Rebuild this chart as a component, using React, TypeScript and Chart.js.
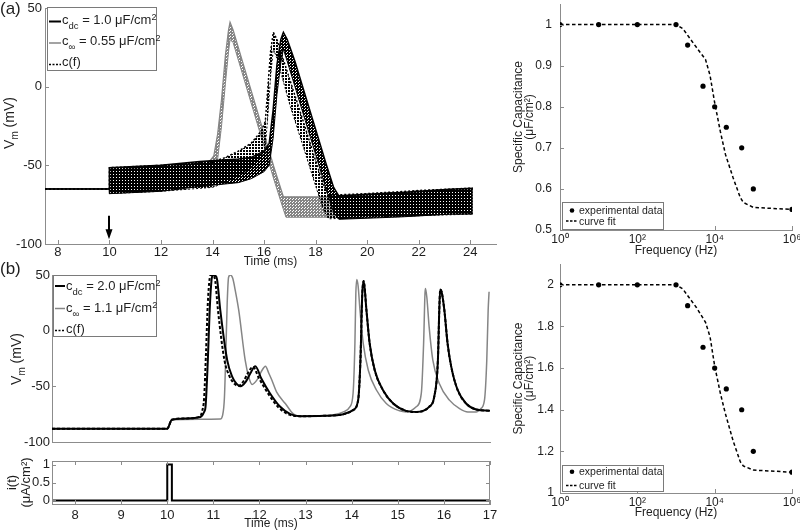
import React, { useEffect, useRef } from "react";
import { Chart, registerables } from "chart.js";

Chart.register(...registerables);

const FONT = "'Liberation Sans', Arial, Helvetica, sans-serif";
const TEXT = "#1e1e1e";
const AXIS = "#8c8c8c";
const GRAY = "#858585";
Chart.defaults.font.family = FONT;

// ---------------- Panel (a): Vm under high-frequency stimulation ----------------
const aTimeTicks = [8, 10, 12, 14, 16, 18, 20, 22, 24];
const aTimeLabels = ["8", "10", "12", "14", "16", "18", "20", "22", "24"];
const aVmTicks = [-100, -50, 0, 50];
const aVmLabels = ["-100", "-50", "0", "50"];
const aArrowTime = 10;
const aArrowFrom = -82;
const aArrowTo = -97;

// envelopes (upper / lower edge of the oscillating trace)
const aCdcTime = [7.5, 10, 10, 12, 13.5, 15, 15.5, 16, 16.2, 16.35, 16.5, 16.65, 16.75, 16.9, 17.2, 17.6, 18.0, 18.4, 18.7, 18.9, 21.3, 23.2, 24.1];
const aCdcUpper = [-65, -65, -51.5, -50, -47.5, -46, -45, -41, -36, -15, 14, 30, 34.6, 30, 16, -5.6, -27, -48.7, -64, -69.4, -67.3, -65.2, -64.5];
const aCdcLower = [-65, -65, -68, -66.5, -63.5, -61, -58.5, -54, -50, -33, -5, 15, 24, 16, 0, -21.6, -43, -64.7, -80, -84.3, -82.8, -81, -81];

const aCinfTime = [7.5, 10, 10, 13.8, 14.05, 14.2, 14.35, 14.5, 14.62, 14.68, 14.8, 15.2, 15.6, 16.0, 16.4, 16.75, 16.85, 18.3, 20, 22, 24.1];
const aCinfUpper = [-65, -65, -53, -49, -44, -30, -8, 20, 36, 41, 36, 14, -8, -30, -52, -70, -70, -70, -69, -67, -65.5];
const aCinfLower = [-65, -65, -67, -63, -58, -46, -25, 2, 22, 30, 28, 6, -16, -38, -60, -78, -83, -83, -83, -82, -80.5];

const aCfTime = [7.5, 10, 10, 12, 14, 14.5, 15, 15.5, 15.9, 16.05, 16.15, 16.25, 16.36, 16.5, 17.0, 17.5, 18.0, 18.3, 18.5, 20, 22, 24.1];
const aCfUpper = [-65, -65, -51.5, -50, -48, -45, -41, -36, -28, -22, 0, 22, 34.6, 30, 4.4, -21, -47, -62, -69, -68, -66, -64.5];
const aCfLower = [-65, -65, -68, -66.5, -64, -61, -57, -52, -44, -38, -18, 6, 24, 18, -11.6, -37, -63, -78, -84, -83, -82, -81];

// ---------------- Panel (b): Vm with a brief current pulse ----------------
const bTimeTicks = [8, 9, 10, 11, 12, 13, 14, 15, 16, 17];
const bTimeLabels = ["8", "9", "10", "11", "12", "13", "14", "15", "16", "17"];
const bVmTicks = [-100, -50, 0, 50];
const bVmLabels = ["-100", "-50", "0", "50"];

const bCdcTime = [7.5, 10, 10.1, 10.4, 10.72, 10.8, 10.83, 10.88, 10.92, 10.96, 10.99, 11.04, 11.08, 11.15, 11.3, 11.41, 11.5, 11.59, 11.7, 11.8, 11.91, 12.04, 12.23, 12.45, 12.67, 12.88, 13.4, 13.82, 14.03, 14.14, 14.19, 14.23, 14.26, 14.32, 14.39, 14.5, 14.68, 14.9, 15.18, 15.4, 15.68, 15.79, 15.87, 15.9, 15.92, 15.95, 16.01, 16.08, 16.16, 16.3, 16.48, 16.7, 17];
const bCdcVm = [-88, -88, -80, -78.8, -77.6, -73, -68.4, -26.5, 18.4, 45.4, 50, 49.5, 46, 18.4, -26.5, -41.5, -47.5, -49.9, -46, -38.5, -31.9, -43, -56.4, -68.4, -75, -76.8, -76.5, -75, -71.4, -62.4, -26.5, 33.4, 44.7, 18.4, -11.5, -35.5, -53.5, -65.4, -72, -73, -68.4, -59.5, -26.5, 18.4, 37, 35, 18.4, -11.5, -32.5, -53.5, -65.4, -70.8, -72];

const bCinfTime = [7.5, 10, 10.1, 10.7, 11.15, 11.2, 11.24, 11.27, 11.3, 11.33, 11.37, 11.42, 11.48, 11.55, 11.69, 11.77, 11.84, 11.95, 12.05, 12.13, 12.2, 12.27, 12.37, 12.56, 12.74, 12.88, 13.4, 13.82, 13.96, 14.03, 14.07, 14.09, 14.11, 14.14, 14.18, 14.25, 14.36, 14.54, 14.75, 15.04, 15.18, 15.4, 15.51, 15.56, 15.59, 15.6, 15.63, 15.68, 15.76, 15.9, 16.12, 16.34, 16.52, 16.7, 16.8, 16.88, 16.93, 16.96, 16.98];
const bCinfVm = [-88, -88, -80, -79.5, -79.3, -76, -60, -20, 25, 48, 50, 47, 35, 18.4, -26.5, -42, -48.3, -44, -36, -31.9, -38, -44.5, -55, -65.4, -75, -76.8, -76.5, -73, -68.4, -56.4, -11.5, 33.4, 46, 40, 18.4, -11.5, -35.5, -53.5, -65.4, -72, -73, -68.4, -56.4, -11.5, 33.4, 37.9, 30, 3.4, -26.5, -47.4, -62.4, -70, -73, -73, -70, -62.4, -26.5, 18.4, 34.9];

const bCfTime = [7.5, 10, 10.1, 10.4, 10.7, 10.76, 10.8, 10.84, 10.88, 10.92, 10.95, 11.0, 11.04, 11.1, 11.24, 11.35, 11.45, 11.55, 11.66, 11.75, 11.86, 11.98, 12.18, 12.4, 12.62, 12.85, 13.4, 13.82, 14.03, 14.14, 14.19, 14.23, 14.26, 14.32, 14.39, 14.5, 14.68, 14.9, 15.18, 15.4, 15.68, 15.79, 15.87, 15.9, 15.92, 15.95, 16.01, 16.08, 16.16, 16.3, 16.48, 16.7, 17];
const bCfVm = [-88, -88, -80, -78.8, -77.3, -72, -60, -20, 25, 47, 50, 49.5, 45, 18.4, -26.5, -41, -47.5, -49.5, -45, -38, -32.5, -42, -56, -68.4, -75, -76.8, -76.5, -75, -71.4, -62.4, -26.5, 33.4, 44.7, 18.4, -11.5, -35.5, -53.5, -65.4, -72, -73, -68.4, -59.5, -26.5, 18.4, 37, 35, 18.4, -11.5, -32.5, -53.5, -65.4, -70.8, -72];

const iTime = [7.5, 10, 10, 10.1, 10.1, 17];
const iValue = [0, 0, 1, 1, 0, 0];
const iTicks = [0, 0.5, 1];
const iLabels = ["0", "0.5", "1"];

// ---------------- Capacitance vs frequency ----------------
const freqTicks = [1, 100, 10000, 1000000];
const freqLabels = ["10\u2070", "10\u00b2", "10\u2074", "10\u2076"];
const freqExp = [1, 10, 100, 1000, 2000, 5000, 10000, 20000, 50000, 100000, 1000000];
const capExpA = [1, 1, 1, 1, 0.95, 0.85, 0.8, 0.75, 0.7, 0.6, 0.55];
const capExpB = [2, 2, 2, 2, 1.9, 1.7, 1.6, 1.5, 1.4, 1.2, 1.1];
const freqFit = [1, 10, 100, 1000, 1500, 3400, 5800, 7600, 10000, 14000, 19000, 30000, 46000, 55000, 100000, 1000000];
const capFitA = [1, 1, 1, 1, 0.99, 0.944, 0.915, 0.876, 0.81, 0.74, 0.684, 0.627, 0.579, 0.567, 0.555, 0.55];
const capFitB = [2, 2, 2, 2, 1.98, 1.89, 1.82, 1.75, 1.61, 1.48, 1.38, 1.25, 1.15, 1.13, 1.11, 1.1];
const capTicksA = [0.5, 0.6, 0.7, 0.8, 0.9, 1];
const capLabelsA = ["0.5", "0.6", "0.7", "0.8", "0.9", "1"];
const capTicksB = [1, 1.2, 1.4, 1.6, 1.8, 2];
const capLabelsB = ["1", "1.2", "1.4", "1.6", "1.8", "2"];

// ---------------- helpers ----------------
const pts = (xs: number[], ys: number[]) => xs.map((x, i) => ({ x, y: ys[i] }));

function axis(o: any) {
  return {
    type: o.type || "linear",
    min: o.min,
    max: o.max,
    afterBuildTicks: (s: any) => {
      s.ticks = o.ticks.map((v: number) => ({ value: v }));
    },
    afterFit: (s: any) => {
      if (s.isHorizontal()) s.height = o.size;
      else s.width = o.size;
      s.paddingTop = 0;
      s.paddingBottom = 0;
      s.paddingLeft = 0;
      s.paddingRight = 0;
    },
    grid: { display: false, drawTicks: false },
    border: { display: true, color: AXIS, width: 1 },
    ticks: {
      display: o.showLabels !== false,
      autoSkip: false,
      maxRotation: 0,
      minRotation: 0,
      padding: o.pad,
      color: TEXT,
      font: { family: FONT, size: o.fontSize || 13 },
      callback: (_v: any, i: number) => o.labels[i],
    },
    title: o.title
      ? {
          display: true,
          text: o.title,
          color: TEXT,
          padding: 0,
          font: { family: FONT, size: o.titleSize || 12, lineHeight: o.titleLH || 1.2 },
        }
      : { display: false },
  };
}

const decor = {
  id: "decor",
  afterDraw(chart: any, _a: any, o: any) {
    const { ctx, chartArea: ca } = chart;
    const xs = chart.scales.x;
    const ys = chart.scales.y;
    const len = 4;
    ctx.save();
    ctx.strokeStyle = AXIS;
    ctx.lineWidth = 1;
    ctx.setLineDash([]);
    ctx.beginPath();
    if (o.xTicks)
      xs.ticks.forEach((t: any) => {
        const p = Math.round(xs.getPixelForValue(t.value)) + 0.5;
        ctx.moveTo(p, ca.bottom);
        ctx.lineTo(p, ca.bottom - len);
        if (o.mirror) {
          ctx.moveTo(p, ca.top);
          ctx.lineTo(p, ca.top + len);
        }
      });
    if (o.yTicks)
      ys.ticks.forEach((t: any) => {
        const p = Math.round(ys.getPixelForValue(t.value)) + 0.5;
        ctx.moveTo(ca.left, p);
        ctx.lineTo(ca.left + len, p);
        if (o.mirror) {
          ctx.moveTo(ca.right, p);
          ctx.lineTo(ca.right - len, p);
        }
      });
    ctx.stroke();
    if (o.box) {
      ctx.strokeRect(Math.round(ca.left) + 0.5, Math.round(ca.top) + 0.5, Math.round(ca.right - ca.left) - 1, Math.round(ca.bottom - ca.top));
    }
    if (o.arrow) {
      const px = Math.round(xs.getPixelForValue(o.arrow.x));
      const y1 = ys.getPixelForValue(o.arrow.from);
      const y2 = ys.getPixelForValue(o.arrow.to);
      ctx.strokeStyle = "#000";
      ctx.fillStyle = "#000";
      ctx.lineWidth = 2;
      ctx.beginPath();
      ctx.moveTo(px, y1);
      ctx.lineTo(px, y2 - 8);
      ctx.stroke();
      ctx.beginPath();
      ctx.moveTo(px - 3.5, y2 - 10);
      ctx.lineTo(px + 3.5, y2 - 10);
      ctx.lineTo(px, y2);
      ctx.closePath();
      ctx.fill();
    }
    ctx.restore();
  },
};

// small repeat tile: cells are [x, y] pixels to paint
function pattern(color: string, w: number, h: number, cells: number[][]) {
  const c = document.createElement("canvas");
  c.width = w;
  c.height = h;
  const g = c.getContext("2d")!;
  g.fillStyle = color;
  cells.forEach(([x, y]) => g.fillRect(x, y, 1, 1));
  return g.createPattern(c, "repeat");
}

function band(time: number[], up: number[], lo: number[], color: string, fillStyle: any, dash: number[], order: number, w: number) {
  return [
    { data: pts(time, up), borderColor: color, borderWidth: w, borderDash: dash, pointRadius: 0, fill: false, order },
    { data: pts(time, lo), borderColor: color, borderWidth: 1, borderDash: dash, pointRadius: 0, fill: "-1", backgroundColor: fillStyle, order },
  ];
}

const baseOpts = {
  responsive: false,
  animation: false,
  devicePixelRatio: 1,
  events: [],
};

function configA() {
  const dense = [[0, 0], [1, 0], [0, 1], [1, 2], [2, 1], [2, 2], [0, 2]];
  const dots = [[0, 0], [1, 0], [0, 1], [1, 1]];
  return {
    type: "line",
    data: {
      datasets: [
        ...band(aCfTime, aCfUpper, aCfLower, "#000", pattern("#000", 3, 3, dots), [2, 2], 0, 1.5),
        ...band(aCdcTime, aCdcUpper, aCdcLower, "#000", pattern("#000", 3, 3, dense), [], 1, 1.5),
        ...band(aCinfTime, aCinfUpper, aCinfLower, GRAY, pattern(GRAY, 3, 3, dense), [], 2, 1.2),
      ],
    },
    options: {
      ...baseOpts,
      layout: { padding: { left: 0, top: 8, right: 14, bottom: 0 } },
      plugins: {
        legend: { display: false },
        tooltip: { enabled: false },
        decor: { xTicks: true, yTicks: true, arrow: { x: aArrowTime, from: aArrowFrom, to: aArrowTo } },
      },
      scales: {
        x: axis({ min: 7.5, max: 25, ticks: aTimeTicks, labels: aTimeLabels, size: 25, pad: 1, title: "Time (ms)" }),
        y: axis({ min: -100, max: 50, ticks: aVmTicks, labels: aVmLabels, size: 45, pad: 3 }),
      },
    },
    plugins: [decor],
  };
}

function configB() {
  const line = (t: number[], v: number[], color: string, w: number, dash: number[], order: number) => ({
    data: pts(t, v),
    borderColor: color,
    borderWidth: w,
    borderDash: dash,
    pointRadius: 0,
    fill: false,
    cubicInterpolationMode: "monotone",
    order,
  });
  return {
    type: "line",
    data: {
      datasets: [
        line(bCfTime, bCfVm, "#000", 2, [3, 2], 0),
        line(bCdcTime, bCdcVm, "#000", 2, [], 1),
        line(bCinfTime, bCinfVm, GRAY, 1.5, [], 2),
      ],
    },
    options: {
      ...baseOpts,
      layout: { padding: { left: 0, top: 13, right: 15, bottom: 12 } },
      plugins: { legend: { display: false }, tooltip: { enabled: false }, decor: { xTicks: false, yTicks: true } },
      scales: {
        x: axis({ min: 7.5, max: 17, ticks: bTimeTicks, labels: bTimeLabels, size: 3, pad: 0, showLabels: false }),
        y: axis({ min: -100, max: 50, ticks: bVmTicks, labels: bVmLabels, size: 52, pad: 2 }),
      },
    },
    plugins: [decor],
  };
}

function configC() {
  return {
    type: "line",
    data: {
      datasets: [{ data: pts(iTime, iValue), borderColor: "#000", borderWidth: 2, pointRadius: 0, fill: false }],
    },
    options: {
      ...baseOpts,
      layout: { padding: { left: 5, top: 11, right: 15, bottom: 0 } },
      plugins: { legend: { display: false }, tooltip: { enabled: false }, decor: { xTicks: true, yTicks: true, mirror: true, box: true } },
      scales: {
        x: axis({ min: 7.5, max: 17, ticks: bTimeTicks, labels: bTimeLabels, size: 27, pad: 4, title: "Time (ms)" }),
        y: axis({ min: -0.1, max: 1.1, ticks: iTicks, labels: iLabels, size: 47, pad: 2, title: ["i(t)", "(\u03bcA/cm\u00b2)"], titleSize: 13, titleLH: 1.08 }),
      },
    },
    plugins: [decor],
  };
}

function configCap(capExp: number[], capFit: number[], ymin: number, ymax: number, yt: number[], yl: string[], ypad: number, top: number, xh: number) {
  return {
    type: "scatter",
    data: {
      datasets: [
        { data: pts(freqExp, capExp), backgroundColor: "#000", borderColor: "#000", pointRadius: 2.6, pointBorderWidth: 0, showLine: false, order: 0 },
        { data: pts(freqFit, capFit), borderColor: "#000", borderWidth: 1.5, borderDash: [3.5, 2.5], pointRadius: 0, showLine: true, fill: false, order: 1 },
      ],
    },
    options: {
      ...baseOpts,
      layout: { padding: { left: 7.5, top, right: 8, bottom: 0 } },
      plugins: { legend: { display: false }, tooltip: { enabled: false }, decor: { xTicks: true, yTicks: true } },
      scales: {
        x: axis({ type: "logarithmic", min: 1, max: 1000000, ticks: freqTicks, labels: freqLabels, size: xh, pad: 2, fontSize: 12, title: "Frequency (Hz)" }),
        y: axis({ min: ymin, max: ymax, ticks: yt, labels: yl, size: 47.5, pad: ypad, fontSize: 12, title: ["Specific Capacitance", "(\u03bcF/cm\u00b2)"], titleLH: 0.95 }),
      },
    },
    plugins: [decor],
  };
}

function ChartCanvas(props: { left: number; top: number; width: number; height: number; make: () => any }) {
  const ref = useRef<HTMLCanvasElement>(null);
  useEffect(() => {
    const chart = new Chart(ref.current as HTMLCanvasElement, props.make());
    return () => chart.destroy();
  }, []);
  return (
    <canvas
      ref={ref}
      width={props.width}
      height={props.height}
      style={{ position: "absolute", left: props.left, top: props.top, width: props.width, height: props.height, display: "block" }}
    />
  );
}

const Sub = (p: { children: any; dy: number; size: number }) => (
  <span style={{ fontSize: p.size, position: "relative", top: p.dy, lineHeight: 0 }}>{p.children}</span>
);

function Txt(p: { left: number; baseline: number; size: number; children: any }) {
  const lh = Math.round(p.size * 1.15);
  const top = p.baseline - (lh - p.size * 1.117) / 2 - p.size * 0.905;
  return (
    <div style={{ position: "absolute", left: p.left, top, fontSize: p.size, lineHeight: lh + "px", whiteSpace: "nowrap", color: TEXT, fontFamily: FONT }}>
      {p.children}
    </div>
  );
}

function VLabel(p: { cx: number; cy: number; children: any; size: number }) {
  return (
    <div
      style={{
        position: "absolute",
        left: p.cx,
        top: p.cy,
        transform: "translate(-50%,-50%) rotate(-90deg)",
        fontSize: p.size,
        lineHeight: "16px",
        whiteSpace: "nowrap",
        color: TEXT,
        fontFamily: FONT,
      }}
    >
      {p.children}
    </div>
  );
}

const boxStyle = (left: number, top: number, width: number, height: number): any => ({
  position: "absolute",
  left,
  top,
  width,
  height,
  border: "1px solid #7a7a7a",
  boxSizing: "border-box",
  background: "#fff",
});

export default function App() {
  return (
    <div style={{ position: "absolute", left: 0, top: 0, width: 800, height: 531, background: "#fff", overflow: "hidden", fontFamily: FONT }}>
      <ChartCanvas left={0} top={0} width={510} height={269} make={configA} />
      <ChartCanvas left={0} top={262} width={505} height={195} make={configB} />
      <ChartCanvas left={0} top={450} width={505} height={81} make={configC} />
      <ChartCanvas left={505} top={0} width={295} height={258} make={() => configCap(capExpA, capFitA, 0.5, 1.05, capTicksA, capLabelsA, 8, 2, 28)} />
      <ChartCanvas left={505} top={260} width={295} height={260} make={() => configCap(capExpB, capFitB, 1, 2.1, capTicksB, capLabelsB, 6, 4, 27)} />

      {/* legend boxes */}
      <div style={boxStyle(47, 7, 110, 64)} />
      <div style={boxStyle(53, 275, 104, 62)} />
      <div style={boxStyle(562, 202, 102, 28)} />
      <div style={boxStyle(562, 465, 102, 27)} />

      <svg width={800} height={531} style={{ position: "absolute", left: 0, top: 0, pointerEvents: "none" }}>
        <line x1={49} y1={21.5} x2={61} y2={21.5} stroke="#000" strokeWidth={2} />
        <line x1={49} y1={43} x2={61} y2={43} stroke={GRAY} strokeWidth={1.5} />
        <line x1={49} y1={64.5} x2={61} y2={64.5} stroke="#000" strokeWidth={1.5} strokeDasharray="2 1.5" />
        <line x1={55} y1={286} x2={65} y2={286} stroke="#000" strokeWidth={2} />
        <line x1={55} y1={308.5} x2={65} y2={308.5} stroke={GRAY} strokeWidth={1.5} />
        <line x1={55} y1={330.5} x2={65} y2={330.5} stroke="#000" strokeWidth={1.5} strokeDasharray="2 1.5" />
        <circle cx={572} cy={210.5} r={2.3} fill="#000" />
        <line x1={566} y1={221} x2={578} y2={221} stroke="#000" strokeWidth={1.3} strokeDasharray="2.5 1.5" />
        <circle cx={572} cy={471.7} r={2.3} fill="#000" />
        <line x1={566} y1={485.5} x2={578} y2={485.5} stroke="#000" strokeWidth={1.3} strokeDasharray="2.5 1.5" />
      </svg>

      {/* legend (a) */}
      <Txt left={62} baseline={24} size={13}>
        c<Sub dy={5} size={9.5}>dc</Sub> = 1.0 {"\u03bc"}F/cm<Sub dy={-4} size={9}>2</Sub>
      </Txt>
      <Txt left={62} baseline={45.5} size={13}>
        c<Sub dy={5} size={9.5}>{"\u221e"}</Sub> = 0.55 {"\u03bc"}F/cm<Sub dy={-4} size={9}>2</Sub>
      </Txt>
      <Txt left={62} baseline={66} size={13}>
        c(f)
      </Txt>

      {/* legend (b) */}
      <Txt left={66} baseline={290} size={13}>
        c<Sub dy={5} size={9.5}>dc</Sub> = 2.0 {"\u03bc"}F/cm<Sub dy={-4} size={9}>2</Sub>
      </Txt>
      <Txt left={66} baseline={311.7} size={13}>
        c<Sub dy={5} size={9.5}>{"\u221e"}</Sub> = 1.1 {"\u03bc"}F/cm<Sub dy={-4} size={9}>2</Sub>
      </Txt>
      <Txt left={66} baseline={333} size={13}>
        c(f)
      </Txt>

      {/* legends right */}
      <Txt left={579} baseline={214} size={10.5}>experimental data</Txt>
      <Txt left={579} baseline={225} size={10.5}>curve fit</Txt>
      <Txt left={579} baseline={475} size={10.5}>experimental data</Txt>
      <Txt left={579} baseline={488.5} size={10.5}>curve fit</Txt>

      {/* panel labels */}
      <Txt left={0} baseline={15} size={17}>(a)</Txt>
      <Txt left={0} baseline={275} size={17}>(b)</Txt>

      {/* y titles with subscript */}
      <VLabel cx={9} cy={123} size={14}>
        V<Sub dy={4} size={10}>m</Sub> (mV)
      </VLabel>
      <VLabel cx={16} cy={359} size={14}>
        V<Sub dy={4} size={10}>m</Sub> (mV)
      </VLabel>
    </div>
  );
}
